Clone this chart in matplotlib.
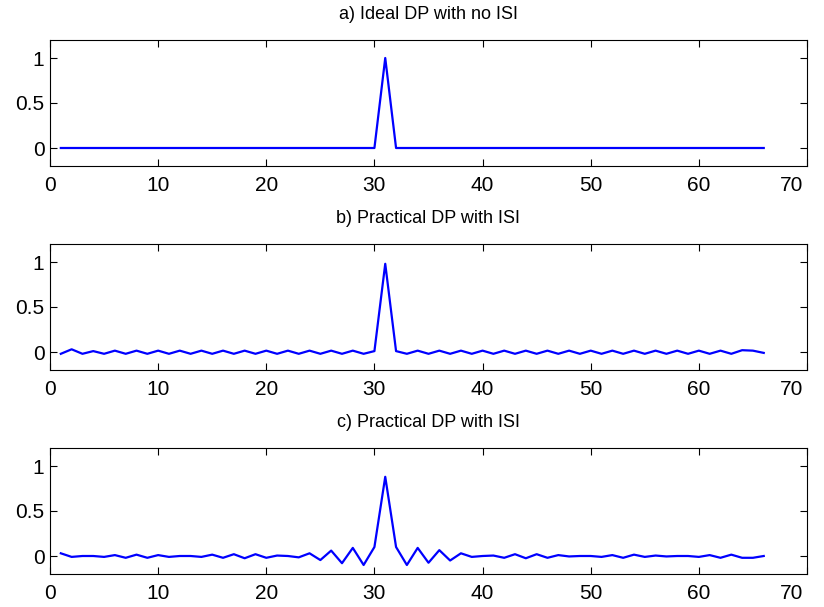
import matplotlib
matplotlib.use("Agg")
import matplotlib.pyplot as plt
import matplotlib.transforms as mtransforms
import numpy as np

# sample index
n = np.arange(1, 67)

# a) ideal DP, single tap at 31
dp_ideal = np.zeros(66)
dp_ideal[30] = 1.0

# b) practical DP, small alternating ripple
dp_b = [-0.02, 0.03, -0.02, 0.01, -0.02, 0.015, -0.02, 0.015, -0.02, 0.015,
        -0.02, 0.015, -0.02, 0.015, -0.02, 0.015, -0.02, 0.015, -0.02, 0.015,
        -0.02, 0.015, -0.02, 0.015, -0.02, 0.015, -0.02, 0.015, -0.02, 0.01,
        0.98, 0.01, -0.02, 0.015, -0.02, 0.015, -0.02, 0.015, -0.02, 0.015,
        -0.02, 0.015, -0.02, 0.015, -0.02, 0.015, -0.02, 0.015, -0.02, 0.015,
        -0.02, 0.015, -0.02, 0.015, -0.02, 0.015, -0.02, 0.015, -0.02, 0.015,
        -0.02, 0.015, -0.02, 0.02, 0.015, -0.01]

# c) practical DP, stronger ISI around the main tap
dp_c = [0.03, -0.01, 0.0, 0.0, -0.01, 0.01, -0.02, 0.015, -0.02, 0.01,
        -0.01, 0.0, 0.0, -0.01, 0.015, -0.02, 0.02, -0.025, 0.02, -0.02,
        0.005, 0.0, -0.015, 0.03, -0.045, 0.06, -0.08, 0.09, -0.10, 0.10,
        0.88, 0.10, -0.10, 0.09, -0.075, 0.065, -0.05, 0.03, -0.01, 0.0,
        0.005, -0.02, 0.02, -0.025, 0.02, -0.02, 0.01, -0.005, 0.0, 0.0,
        -0.01, 0.01, -0.02, 0.015, -0.01, 0.005, -0.005, 0.0, 0.0, -0.01,
        0.01, -0.02, 0.015, -0.02, -0.02, 0.0]

titles = ['a) Ideal DP with no ISI', 'b) Practical DP with ISI', 'c) Practical DP with ISI']
series = [dp_ideal, dp_b, dp_c]

plt.rcParams['font.family'] = ['Liberation Sans', 'DejaVu Sans']

W, H = 824, 607
fig = plt.figure(figsize=(W / 100, H / 100), dpi=100)

# axes frames in pixels: (top, bottom)
frames = [(40, 166), (244, 370), (448, 574)]
left, right = 50, 807

for (top, bot), y, title in zip(frames, series, titles):
    ax = fig.add_axes([left / W, 1 - bot / H, (right - left) / W, (bot - top) / H])
    ax.plot(n, y, color='blue', linewidth=1.6)
    ax.set_xlim(0, 70)
    ax.set_ylim(-0.2, 1.2)
    ax.set_xticks(np.arange(0, 71, 10))
    ax.set_yticks([0, 0.5, 1])
    ax.set_yticklabels(['0', '0.5', '1'])
    ax.tick_params(direction='in', top=True, right=True, length=5, width=0.8,
                   labelsize=15)
    ax.tick_params(axis='y', pad=4)
    ax.tick_params(axis='x', pad=7)
    ax.set_title(title, fontsize=13, pad=15)

    # last x label is pulled inside the figure, as in the original export
    last = ax.get_xticklabels()[-1]
    last.set_transform(last.get_transform() +
                       mtransforms.ScaledTranslation(-15 / 100, 0, fig.dpi_scale_trans))

plt.savefig('out.png', dpi=100)
